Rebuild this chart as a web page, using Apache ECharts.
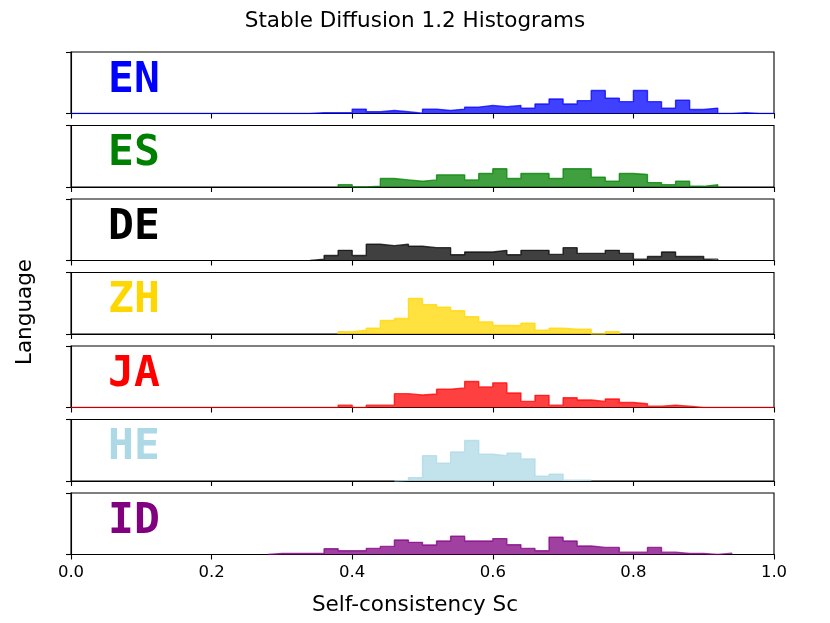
<!DOCTYPE html>
<html>
<head>
<meta charset="utf-8">
<script src="https://cdn.jsdelivr.net/npm/echarts@6/dist/echarts.min.js"></script>
<style>html,body{margin:0;padding:0;background:#fff}#c{width:830px;height:623px}</style>
</head>
<body>
<div id="c"></div>
<script>
// ---- data (histogram heights, bins of width 0.02) ----
const languages = ['EN', 'ES', 'DE', 'ZH', 'JA', 'HE', 'ID'];
const colors = ['#0000ff', '#008000', '#000000', '#ffd700', '#ff0000', '#add8e6', '#800080'];
const BIN_WIDTH = 0.02;
// first bin left edge for each language
const binStarts = [0.00, 0.38, 0.34, 0.38, 0.00, 0.46, 0.28];
const enCounts = [0,0,0,0,0,0,0,0,0,0,0,0,0,0,0,0,0,
  2,2,2,13,5,9,5,1,13,9,13,19,24,20,24,16,28,43,28,38,68,45,35,68,35,16,39,12,16,0,2,0,0];
const esCounts = [7,0,2,25,21,17,21,36,36,21,40,54,25,40,40,25,54,54,29,17,40,37,13,7,17,2,7];
const deCounts = [4,15,30,15,48,44,48,42,38,38,17,25,25,30,17,30,30,18,38,21,21,30,21,4,12,25,12,12,4];
const zhCounts = [7,11,17,40,46,105,87,79,69,51,36,25,25,32,11,17,14,14,0,7];
const jaCounts = [0,0,0,0,0,0,0,0,0,0,0,0,0,0,0,0,0,0,0,
  7,0,7,7,41,37,40,54,58,77,61,73,43,18,36,7,29,22,18,25,15,11,4,7,4,0,0,0,0,0,0];
const heCounts = [2,10,75,53,86,120,79,75,82,65,14,20,2,2];
const idCounts = [3,3,3,3,17,11,11,18,24,43,36,28,40,54,40,40,47,29,18,11,51,40,25,21,21,7,7,21,7,3,3,0,4];
const allCounts = [enCounts, esCounts, deCounts, zhCounts, jaCounts, heCounts, idCounts];
const Y_MAX = 182;

// ---- layout ----
const PLOT_LEFT = 71, PLOT_WIDTH = 703;
const PANEL_TOP0 = 52, PANEL_STEP = 73.5, PANEL_H = 61.5;

function stepPoints(start, counts) {
  const pts = [[start, 0]];
  counts.forEach((c, i) => pts.push([+(start + i * BIN_WIDTH).toFixed(4), c]));
  const end = +(start + counts.length * BIN_WIDTH).toFixed(4);
  pts.push([end, counts[counts.length - 1]]);
  pts.push([end, 0]);
  return pts;
}

const grids = [], xAxes = [], yAxes = [], series = [], graphics = [];
languages.forEach((lang, i) => {
  const top = PANEL_TOP0 + i * PANEL_STEP;
  const last = i === languages.length - 1;
  grids.push({ left: PLOT_LEFT, width: PLOT_WIDTH, top: top, height: PANEL_H,
    show: true, borderColor: '#000', borderWidth: 1.1, backgroundColor: 'transparent' });
  xAxes.push({ type: 'value', gridIndex: i, min: 0, max: 1, interval: 0.2,
    axisLine: { show: true, onZero: false, lineStyle: { color: '#000', width: 1.1 } },
    axisTick: { show: true, length: 5, lineStyle: { color: '#000', width: 1.1 } },
    axisLabel: { show: last, color: '#000', fontSize: 16.5, fontFamily: 'DejaVu Sans', margin: 10,
      formatter: v => v.toFixed(1) },
    splitLine: { show: false } });
  yAxes.push({ type: 'value', gridIndex: i, min: 0, max: Y_MAX, interval: Y_MAX,
    axisLine: { show: true, lineStyle: { color: '#000', width: 1.1 } },
    axisTick: { show: true, length: 5, lineStyle: { color: '#000', width: 1.1 } },
    axisLabel: { show: false }, splitLine: { show: false } });
  series.push({ type: 'line', xAxisIndex: i, yAxisIndex: i, step: 'end', symbol: 'none',
    silent: true, animation: false,
    data: stepPoints(binStarts[i], allCounts[i]),
    lineStyle: { color: colors[i], width: 1.4, opacity: 0.75 },
    areaStyle: { color: colors[i], opacity: 0.75, origin: 'start' } });
  graphics.push({ type: 'text', left: 108, top: top + 7, z: 100,
    style: { text: lang, fill: colors[i], fontSize: 43, fontWeight: 'bold', fontFamily: 'DejaVu Sans Mono' } });
});

graphics.push({ type: 'text', x: 415, y: 21, z: 100,
  style: { text: 'Stable Diffusion 1.2 Histograms', fill: '#000', fontSize: 21.5, fontFamily: 'DejaVu Sans',
    align: 'center', verticalAlign: 'middle' } });
graphics.push({ type: 'text', x: 415, y: 605, z: 100,
  style: { text: 'Self-consistency Sc', fill: '#000', fontSize: 21.5, fontFamily: 'DejaVu Sans',
    align: 'center', verticalAlign: 'middle' } });
graphics.push({ type: 'text', x: 25, y: 312, rotation: Math.PI / 2, z: 100,
  style: { text: 'Language', fill: '#000', fontSize: 21.5, fontFamily: 'DejaVu Sans',
    align: 'center', verticalAlign: 'middle' } });

const chart = echarts.init(document.getElementById('c'), null, { renderer: 'canvas' });
chart.setOption({ animation: false, backgroundColor: '#fff', grid: grids, xAxis: xAxes, yAxis: yAxes,
  series: series, graphic: graphics });
</script>
</body>
</html>
